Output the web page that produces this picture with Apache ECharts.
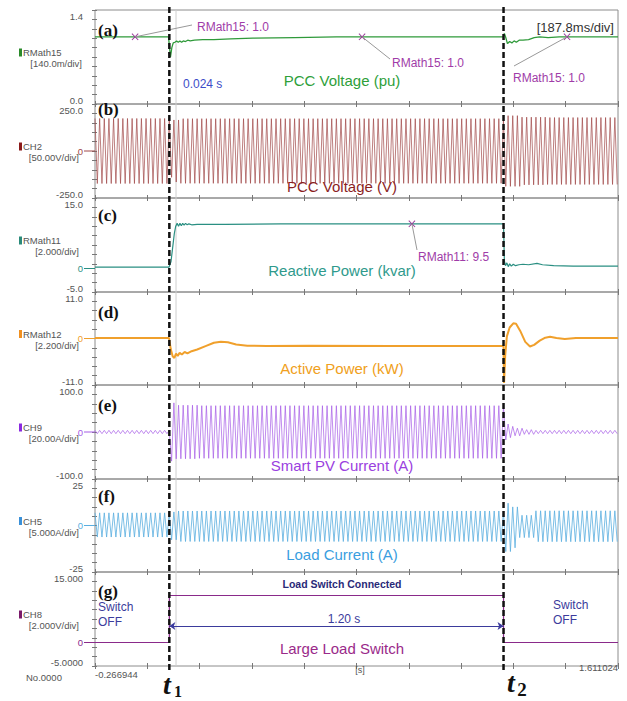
<!DOCTYPE html>
<html>
<head>
<meta charset="utf-8">
<script src="https://cdn.jsdelivr.net/npm/echarts@6/dist/echarts.min.js"></script>
<style>
html, body { margin: 0; background: #fff; }
#chart { width: 627px; height: 701px; }
</style>
</head>
<body>
<div id="chart"></div>
<script>
// time base of the scope capture (s)
const T_MIN = -0.266944, T_MAX = 1.611024;
const T1 = 0.0, T2 = 1.2, T_CURSOR = 0.024;
const LINE_FREQ = 60;

const panelLetters = ['(a)', '(b)', '(c)', '(d)', '(e)', '(f)', '(g)'];
const channelNames = ['RMath15', 'CH2', 'RMath11', 'RMath12', 'CH9', 'CH5', 'CH8'];
const divLabels = ['[140.0m/div]', '[50.00V/div]', '[2.000/div]', '[2.200/div]', '[20.00A/div]', '[5.000A/div]', '[2.000V/div]'];
const yMax = [1.4, 250, 15, 11, 100, 25, 15];
const yMin = [0, -250, -5, -11, -100, -25, -5];
const maxLabels = ['1.4', '250.0', '15.0', '11.0', '100.0', '25', '15.000'];
const minLabels = ['0.0', '-250.0', '-5.0', '-11.0', '-100.0', '-25', '-5.0000'];
const traceTitles = ['PCC Voltage (pu)', 'PCC Voltage (V)', 'Reactive Power (kvar)', 'Active Power (kW)',
    'Smart PV Current (A)', 'Load Current (A)', 'Large Load Switch'];

// slow traces, [t, value]
const pccPu = [[-0.267, 1.0], [-0.003, 1.0], [0.004, 0.70], [0.009, 0.84], [0.014, 0.91], [0.02, 0.92],
    [0.026, 0.94], [0.032, 0.92], [0.038, 0.94], [0.044, 0.92], [0.05, 0.94], [0.058, 0.93], [0.066, 0.95],
    [0.075, 0.94], [0.09, 0.95], [0.12, 0.96], [0.16, 0.96], [0.22, 0.97], [0.3, 0.98], [0.45, 0.99],
    [0.6, 1.0], [1.199, 1.0], [1.203, 1.05], [1.208, 0.99], [1.214, 0.90], [1.222, 0.93], [1.23, 0.91],
    [1.238, 0.94], [1.246, 0.92], [1.256, 0.95], [1.27, 0.95], [1.29, 0.96], [1.31, 0.99], [1.33, 1.0],
    [1.36, 0.99], [1.4, 1.0], [1.611, 1.0]];
const reactivePower = [[-0.267, 0.3], [-0.001, 0.3], [0.006, 1.5], [0.012, 4.5], [0.018, 7.5], [0.023, 9.0],
    [0.028, 9.6], [0.033, 9.0], [0.038, 9.6], [0.043, 9.1], [0.048, 9.6], [0.053, 9.2], [0.058, 9.6],
    [0.064, 9.3], [0.07, 9.5], [0.08, 9.3], [0.1, 9.4], [0.2, 9.4], [0.4, 9.5], [1.2, 9.5], [1.203, 1.6],
    [1.207, 0.6], [1.212, 1.2], [1.217, 0.4], [1.222, 1.0], [1.228, 0.5], [1.235, 0.9], [1.243, 0.6],
    [1.255, 0.8], [1.27, 0.9], [1.29, 0.8], [1.32, 1.1], [1.34, 0.8], [1.38, 0.6], [1.45, 0.5], [1.611, 0.5]];
const activePower = [[-0.267, 0.1], [-0.001, 0.1], [0.005, -2.5], [0.012, -4.2], [0.018, -4.6], [0.024, -3.6],
    [0.03, -4.1], [0.037, -3.4], [0.045, -3.8], [0.055, -3.2], [0.065, -3.5], [0.08, -3.0], [0.1, -2.6],
    [0.13, -1.8], [0.16, -1.0], [0.185, -0.75], [0.21, -0.9], [0.24, -1.4], [0.28, -1.7], [0.35, -1.8],
    [0.5, -1.7], [0.8, -1.8], [1.0, -1.8], [1.2, -1.8], [1.202, -10.5], [1.206, -4], [1.212, 0.5],
    [1.222, 2.6], [1.235, 3.6], [1.245, 3.5], [1.26, 1.8], [1.278, -0.8], [1.295, -1.9], [1.31, -1.5],
    [1.33, -0.5], [1.35, 0.2], [1.367, 0.4], [1.39, 0.1], [1.42, -0.1], [1.46, 0.1], [1.611, 0.1]];
const switchState = [[-0.267, 0], [0, 0], [0, 10], [1.2, 10], [1.2, 0], [1.611, 0]];

// ac traces, envelope steps [tStart, amplitude, offset]
const pccVoltEnv = [[-0.267, 173, 0], [0.0, 140, 0], [0.012, 165, 0], [0.04, 172, 0], [1.2, 188, 0],
    [1.26, 180, 0], [1.35, 178, 0]];
const pvCurrentEnv = [[-0.267, 3.5, 0], [0.0, 62, 0], [0.017, 57, 0], [0.1, 56, 0], [1.2, 17, 0],
    [1.217, 12, 0], [1.24, 8, 0], [1.27, 5, 0], [1.31, 3.5, 0]];
const loadCurrentEnv = [[-0.267, 6.5, 0.3], [0.0, 7.5, -0.2], [0.03, 8.2, -0.4], [1.2, 13, -1],
    [1.225, 11, -1], [1.255, 6, -0.5], [1.31, 8.3, -0.4]];

// scope cursors
const cursorMarks15 = [[-0.123, 1.0], [0.692, 1.0], [1.428, 1.0]];
const cursorMarks11 = [[0.871, 9.5]];
const ARROW_LEVEL = 3.5;

function waveFromEnvelope(env) {
    const half = 1 / (2 * LINE_FREQ);
    const out = [];
    let j = 0;
    for (let k = 0; T_MIN + k * half <= T_MAX; k++) {
        const t = T_MIN + k * half;
        while (j + 1 < env.length && env[j + 1][0] <= t) j++;
        const a = env[j][1], o = env[j][2];
        out.push([t, o + (k % 2 ? -a : a)]);
    }
    return out;
}

const panelData = [pccPu, waveFromEnvelope(pccVoltEnv), reactivePower, activePower,
    waveFromEnvelope(pvCurrentEnv), waveFromEnvelope(loadCurrentEnv), switchState];

const traceColors = ['#2f9a3a', '#a04848', '#2a8f82', '#f0a02c', '#a65ce6', '#5aaee0', '#8a2a8a'];
const titleColors = ['#2ea03a', '#8b1e1e', '#2f9a8c', '#f0a020', '#9a40e0', '#3a9ee0', '#9a2a8a'];
const chipColors = ['#2a8a2a', '#8a1a1a', '#2a8a7a', '#f09020', '#8a2ae0', '#3a90d8', '#7a1a6a'];
const lineWidths = [1.3, 0.7, 1.2, 2, 0.7, 0.8, 1.2];

const PANEL_TOPS = [10, 104, 198, 292, 385, 479, 572, 666];
const PLOT_LEFT = 95, PLOT_W = 523;
const SANS = "'Liberation Sans', Arial, sans-serif";
const SERIF = "'Liberation Serif', 'Times New Roman', serif";

const xMark = 'path://M0,1L1,0L5,4L9,0L10,1L6,5L10,9L9,10L5,6L1,10L0,9L4,5Z';

const grids = [], xAxes = [], yAxes = [], series = [];
const tickAxis = (gridIndex, position, len) => ({
    gridIndex, type: 'value', min: 0, max: 10, interval: 1, position,
    axisLine: { show: false },
    axisTick: { show: true, inside: true, length: len, lineStyle: { color: '#777' } },
    axisLabel: { show: false }, splitLine: { show: false }
});

for (let i = 0; i < 7; i++) {
    grids.push({
        left: PLOT_LEFT, width: PLOT_W, top: PANEL_TOPS[i], height: PANEL_TOPS[i + 1] - PANEL_TOPS[i],
        show: true, borderColor: '#8c8c8c', borderWidth: 1, backgroundColor: 'transparent'
    });
    xAxes.push({ gridIndex: i, type: 'value', min: T_MIN, max: T_MAX, position: 'bottom', show: false });
    xAxes.push(tickAxis(i, 'bottom', 3));
    xAxes.push(tickAxis(i, 'top', 3));
    yAxes.push({ gridIndex: i, type: 'value', min: yMin[i], max: yMax[i], show: false });
    yAxes.push(tickAxis(i, 'left', 2));
    yAxes.push(tickAxis(i, 'right', 3));
    series.push({
        type: 'line', xAxisIndex: 3 * i, yAxisIndex: 3 * i, data: panelData[i],
        showSymbol: false, silent: true, z: 3,
        lineStyle: { color: traceColors[i], width: lineWidths[i] }
    });
}

const markStyle = {
    symbol: xMark, symbolSize: 7, silent: true,
    itemStyle: { color: '#9a3a9a' }, label: { show: false }
};
series[0].markPoint = Object.assign({ data: cursorMarks15.map(c => ({ coord: c })) }, markStyle);
series[2].markPoint = Object.assign({ data: cursorMarks11.map(c => ({ coord: c })) }, markStyle);
series[6].markLine = {
    silent: true, symbol: ['arrow', 'arrow'], symbolSize: 6, label: { show: false },
    lineStyle: { color: '#3b3b9c', width: 1, type: 'solid' },
    data: [[{ coord: [T1, ARROW_LEVEL] }, { coord: [T2, ARROW_LEVEL] }]]
};

const chart = echarts.init(document.getElementById('chart'), null, { renderer: 'svg' });
chart.setOption({
    backgroundColor: '#fff',
    animation: false,
    grid: grids,
    xAxis: xAxes,
    yAxis: yAxes,
    series
});

function px(i, t, v) {
    return chart.convertToPixel({ xAxisIndex: 3 * i, yAxisIndex: 3 * i }, [t, v]);
}
function text(x, y, str, opts) {
    return {
        type: 'text', x, y, z: 20, silent: true,
        style: Object.assign({ text: str, fill: '#444', font: '10px ' + SANS, align: 'left', verticalAlign: 'middle' }, opts || {})
    };
}
function line(x1, y1, x2, y2, stroke, width, dash, z) {
    return {
        type: 'line', z: z == null ? 20 : z, silent: true,
        shape: { x1, y1, x2, y2 },
        style: { stroke, lineWidth: width, lineDash: dash || null }
    };
}

const g = [];
const titleY = [80, 186, 270, 368, 465, 554, 648];
const letterY = [30, 109, 215, 312, 405, 496, 591];
for (let i = 0; i < 7; i++) {
    const top = PANEL_TOPS[i], bottom = PANEL_TOPS[i + 1], mid = (top + bottom) / 2;
    g.push(text(83, top + 6.5, maxLabels[i], { align: 'right', font: '9.5px ' + SANS, fill: '#555' }));
    g.push(text(83, bottom - 4, minLabels[i], { align: 'right', font: '9.5px ' + SANS, fill: '#555' }));
    g.push({ type: 'rect', z: 20, silent: true, shape: { x: 19, y: mid - 8.5, width: 3, height: 8 }, style: { fill: chipColors[i] } });
    g.push(text(23, mid - 4.5, channelNames[i], { font: '9.5px ' + SANS, fill: '#555' }));
    g.push(text(i === 0 ? 82 : 79, mid + 6.5, divLabels[i], { align: 'right', font: '9.5px ' + SANS, fill: '#555' }));
    if (i > 0) {
        const zy = px(i, T_MIN, 0)[1];
        g.push(text(83, zy, '0', { align: 'right', font: '9.5px ' + SANS, fill: traceColors[i] }));
        g.push(line(84, zy, PLOT_LEFT, zy, traceColors[i], 1));
    }
    g.push(text(98, letterY[i], panelLetters[i], { font: 'bold 17px ' + SERIF, fill: '#111' }));
    g.push(text(342, titleY[i], traceTitles[i], { align: 'center', font: '15px ' + SANS, fill: titleColors[i] }));
}

// cursor line at 0.024 s and the two switching instants
const xc = px(0, T_CURSOR, 0)[0];
g.push(line(xc, PANEL_TOPS[0], xc, PANEL_TOPS[7], '#cfcfcf', 1, null, 1));
const x1 = px(0, T1, 0)[0], x2 = px(0, T2, 0)[0];
g.push(line(x1, 7, x1, 671, '#111', 2.5, [6, 3], 30));
g.push(line(x2, 7, x2, 671, '#111', 2.5, [6, 3], 30));

// cursor annotations
const annoColor = '#a03ca8';
const m1 = px(0, cursorMarks15[0][0], cursorMarks15[0][1]);
g.push(line(m1[0], m1[1], 192, 25, '#999', 1));
g.push(text(197, 27, 'RMath15: 1.0', { font: '12px ' + SANS, fill: annoColor }));
const m2 = px(0, cursorMarks15[1][0], cursorMarks15[1][1]);
g.push(line(m2[0], m2[1], 390, 59, '#999', 1));
g.push(text(392, 63, 'RMath15: 1.0', { font: '12px ' + SANS, fill: annoColor }));
const m3 = px(0, cursorMarks15[2][0], cursorMarks15[2][1]);
g.push(line(m3[0], m3[1], 514, 66, '#999', 1));
g.push(text(513, 78, 'RMath15: 1.0', { font: '12px ' + SANS, fill: annoColor }));
const m4 = px(2, cursorMarks11[0][0], cursorMarks11[0][1]);
g.push(line(m4[0], m4[1], 417, 250, '#999', 1));
g.push(text(418, 257, 'RMath11: 9.5', { font: '12px ' + SANS, fill: annoColor }));

g.push(text(183, 84, '0.024 s', { font: '12px ' + SANS, fill: '#3c4cc8' }));
g.push(text(614, 27, '[187.8ms/div]', { align: 'right', font: '13px ' + SANS, fill: '#333' }));

// switch panel notes
const navy = '#3b3b9c';
g.push(text(342, 584, 'Load Switch Connected', { align: 'center', font: 'bold 10.5px ' + SANS, fill: '#2a2a78' }));
g.push(text(344, 619, '1.20 s', { align: 'center', font: '12px ' + SANS, fill: navy }));
g.push(text(98, 607, 'Switch', { font: '12px ' + SANS, fill: navy }));
g.push(text(98, 622, 'OFF', { font: '12px ' + SANS, fill: navy }));
g.push(text(553, 605, 'Switch', { font: '12px ' + SANS, fill: navy }));
g.push(text(553, 620, 'OFF', { font: '12px ' + SANS, fill: navy }));

// time axis footer
g.push(text(26, 677, 'No.0000', { font: '9.5px ' + SANS, fill: '#555' }));
g.push(text(95, 674, '-0.266944', { font: '9.5px ' + SANS, fill: '#555' }));
g.push(text(360, 670, '[s]', { align: 'center', font: '9px ' + SANS, fill: '#555' }));
g.push(text(618, 667, '1.611024', { align: 'right', font: '9.5px ' + SANS, fill: '#555' }));

// t1 / t2 labels
g.push(text(167, 684, 't', { align: 'center', font: 'italic bold 28px ' + SERIF, fill: '#111' }));
g.push(text(178, 691, '1', { align: 'center', font: 'bold 16px ' + SERIF, fill: '#111' }));
g.push(text(511, 682, 't', { align: 'center', font: 'italic bold 28px ' + SERIF, fill: '#111' }));
g.push(text(522, 689, '2', { align: 'center', font: 'bold 19px ' + SERIF, fill: '#111' }));

chart.setOption({ graphic: { elements: g } });
</script>
</body>
</html>
